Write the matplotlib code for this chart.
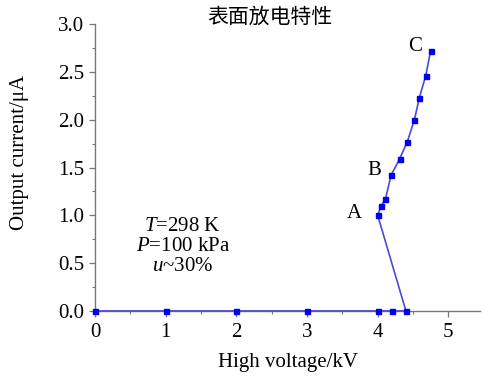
import matplotlib
matplotlib.use("Agg")
import matplotlib.pyplot as plt
from matplotlib.ticker import MultipleLocator, FormatStrFormatter

plt.rcParams['font.family'] = ['Liberation Serif', 'DejaVu Serif']
plt.rcParams['mathtext.fontset'] = 'custom'
plt.rcParams['mathtext.rm'] = 'Liberation Serif'
plt.rcParams['mathtext.it'] = 'Liberation Serif:italic'

# Discharge curve: baseline points, then the rising branch A -> B -> C
voltage_kv = [0, 1, 2, 3, 4, 4.2, 4.4,
              4.0, 4.05, 4.11, 4.19, 4.31, 4.42, 4.52, 4.59, 4.68, 4.75]
current_ua = [0, 0, 0, 0, 0, 0, 0,
              1.0, 1.10, 1.17, 1.42, 1.59, 1.77, 2.00, 2.23, 2.46, 2.72]

point_labels = {"A": 7, "B": 10, "C": 16}
conditions = ["$T$=298 K", "$P$=100 kPa", "$u$~30%"]

FS = 15

fig = plt.figure(figsize=(4.83, 3.76), dpi=100)
ax = fig.add_axes([0.197, 0.173, 0.797, 0.763])

ax.plot(voltage_kv, current_ua, color='#4a4ad8', lw=1.2, marker='s',
        markersize=3.6, markerfacecolor='#0000ee', markeredgecolor='#0000ee',
        clip_on=False, zorder=3)

ax.set_xlim(0, 5.45)
ax.set_ylim(0, 3.0)
ax.xaxis.set_major_locator(MultipleLocator(1))
ax.xaxis.set_minor_locator(MultipleLocator(0.5))
ax.yaxis.set_major_locator(MultipleLocator(0.5))
ax.yaxis.set_minor_locator(MultipleLocator(0.25))
ax.xaxis.set_major_formatter(FormatStrFormatter('%d'))
ax.yaxis.set_major_formatter(FormatStrFormatter('%.1f'))

for side in ('top', 'right'):
    ax.spines[side].set_visible(False)
for side in ('left', 'bottom'):
    ax.spines[side].set_color('#777777')
    ax.spines[side].set_linewidth(1.0)

ax.tick_params(which='major', direction='out', length=4.5, width=0.9,
               color='#777777', labelsize=FS)
ax.tick_params(axis='y', which='major', pad=3.5)
ax.tick_params(axis='x', which='major', pad=4)
ax.tick_params(which='minor', direction='out', length=2.5, width=0.8,
               color='#777777')

ax.set_xlabel("High voltage/kV", fontsize=FS, labelpad=8)
ax.set_ylabel("Output current/μA", fontsize=FS, va='center')
ax.yaxis.set_label_coords(-0.197, 0.554)

label_offsets = {"A": (-17, 1), "B": (-12, 3), "C": (-11, 3)}
for name, idx in point_labels.items():
    ax.annotate(name, (voltage_kv[idx], current_ua[idx]),
                xytext=label_offsets[name], textcoords='offset points',
                ha='center', va='center', fontsize=FS)

for i, line in enumerate(conditions):
    ax.text(1.24, 0.885 - i * 0.21, line, ha='center', va='center',
            fontsize=FS)

fig.text(270 / 483, 1 - 17 / 376, "表面放电特性", ha='center', va='center',
         fontsize=15, family=['Noto Sans CJK SC', 'DejaVu Sans'])

fig.savefig("out.png", dpi=100)
